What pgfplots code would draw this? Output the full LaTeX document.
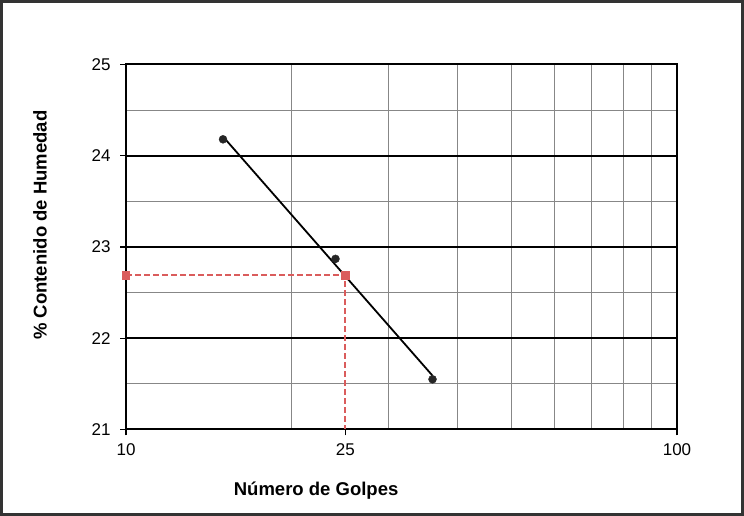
\documentclass[border=0pt]{standalone}
\usepackage{pgfplots}
\pgfplotsset{compat=1.18}
\usepackage{fontspec}
\setmainfont{Liberation Sans}
\definecolor{guia}{RGB}{218,92,92}
\definecolor{rejilla}{RGB}{135,135,135}
\begin{document}
\begin{tikzpicture}
\begin{axis}[
  name=ax,
  scale only axis, width=551pt, height=365pt,
  xmode=log, log basis x=10,
  xmin=10, xmax=100, ymin=21, ymax=25,
  xtick={10,25,100}, xticklabels={10,25,100},
  minor xtick={20,30,40,50,60,70,80,90},
  ytick={21,22,23,24,25},
  minor ytick={21.5,22.5,23.5,24.5},
  tick pos=left, tick align=outside,
  major tick length=6pt, minor tick length=0pt,
  every tick/.style={black, line width=1.2pt},
  xminorgrids=true, ymajorgrids=true, yminorgrids=true,
  major grid style={black, line width=2pt},
  minor grid style={rejilla, line width=0.8pt},
  axis line style={black, line width=2pt},
  /pgf/number format/assume math mode=true,
  tick label style={font=\fontsize{17}{19}\selectfont},
  xticklabel style={yshift=-5pt},
  yticklabel style={xshift=-6pt},
  xlabel={\textbf{Número de Golpes}},
  ylabel={\textbf{\% Contenido de Humedad}},
  label style={font=\fontsize{18.5}{21}\selectfont},
  xlabel style={at={(axis description cs:0.345,-0.168)}, anchor=center},
  ylabel style={at={(axis description cs:-0.156,0.56)}, anchor=center},
  clip mode=individual,
]
% linea de tendencia (ajuste logaritmico)
\addplot[black, line width=1.8pt] coordinates {(15,24.21) (36,21.59)};
% ensayos
\addplot[only marks, mark=*, mark size=4pt, color=black!85] coordinates {
  (15,24.18) (24,22.87) (36,21.55)
};
% lectura a 25 golpes
\addplot[guia, dash pattern=on 6pt off 3pt, line width=1.6pt, mark=square*, mark size=3.5pt,
  mark indices={1,2}, mark options={solid}] coordinates {
  (10,22.69) (25,22.69) (25,21)
};
\end{axis}
\draw[black!80, line width=3pt] ([shift={(-124.5pt,-85pt)}]ax.south west) rectangle ([shift={(616.5pt,428pt)}]ax.south west);
\end{tikzpicture}
\end{document}
